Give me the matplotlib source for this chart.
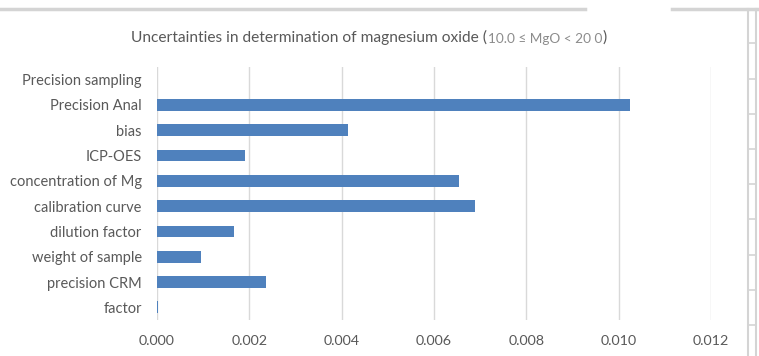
import matplotlib.pyplot as plt
from matplotlib.lines import Line2D

# data
categories = ["Precision sampling", "Precision Anal", "bias", "ICP-OES",
              "concentration of Mg", "calibration curve", "dilution factor",
              "weight of sample", "precision CRM", "factor"]
values = [0.0, 0.01024, 0.00414, 0.0019, 0.00654, 0.00688, 0.00167,
          0.00095, 0.00236, 0.00003]
xticks = [0.000, 0.002, 0.004, 0.006, 0.008, 0.010, 0.012]

plt.rcParams['font.family'] = ['Lato', 'DejaVu Sans']

W, H = 759, 356
fig = plt.figure(figsize=(W / 100, H / 100), dpi=100)
ax = fig.add_axes([157 / W, 1 - 320 / H, (711 - 157) / W, (320 - 67) / H])

pos = list(range(len(categories)))[::-1]
ax.barh(pos, values, height=0.47, color='#4f81bd', zorder=3)

ax.set_xlim(0, 0.012)
ax.set_ylim(-0.5, len(categories) - 0.5)
ax.set_xticks(xticks)
ax.set_xticklabels(["%.3f" % t for t in xticks])
ax.set_yticks(pos)
ax.set_yticklabels(categories)
ax.tick_params(axis='x', length=0, pad=11, labelsize=10.3, labelcolor='#595959')
ax.tick_params(axis='y', length=0, pad=11, labelsize=10.5, labelcolor='#595959')
ax.grid(axis='x', color='#d9d9d9', linewidth=1, zorder=0)
for s in ax.spines.values():
    s.set_visible(False)

# title in three pieces (lighter middle part)
t1 = fig.text(131 / W, 1 - 42 / H, "Uncertainties in determination of magnesium oxide (",
              fontsize=11.2, color='#595959', ha='left', va='baseline')
t2 = ax.annotate("10.0 \u2264 MgO < 20 0", xy=(1, 0), xycoords=t1, xytext=(0.5, 0),
                 textcoords='offset points', fontsize=9.8, color='#8c8c8c',
                 ha='left', va='bottom')
ax.annotate(")", xy=(1, 0), xycoords=t2, xytext=(0.5, 0),
            textcoords='offset points', fontsize=11.2, color='#595959',
            ha='left', va='bottom')

# screenshot frame around the chart
gray = '#d4d4d4'
fig.add_artist(Line2D([0, 585 / W], [1 - 9 / H] * 2, color=gray, lw=2.5))
fig.add_artist(Line2D([672 / W, 757 / W], [1 - 9 / H] * 2, color=gray, lw=2.5))
fig.add_artist(Line2D([748 / W] * 2, [0, 1 - 9 / H], color=gray, lw=1.5))
fig.add_artist(Line2D([756 / W] * 2, [0, 1 - 9 / H], color=gray, lw=1.5))
for yy in [43, 79, 114, 149, 184, 219, 255, 290, 325]:
    fig.add_artist(Line2D([748 / W, 756 / W], [1 - yy / H] * 2, color=gray, lw=1.2))

fig.savefig("out.png", dpi=100)
